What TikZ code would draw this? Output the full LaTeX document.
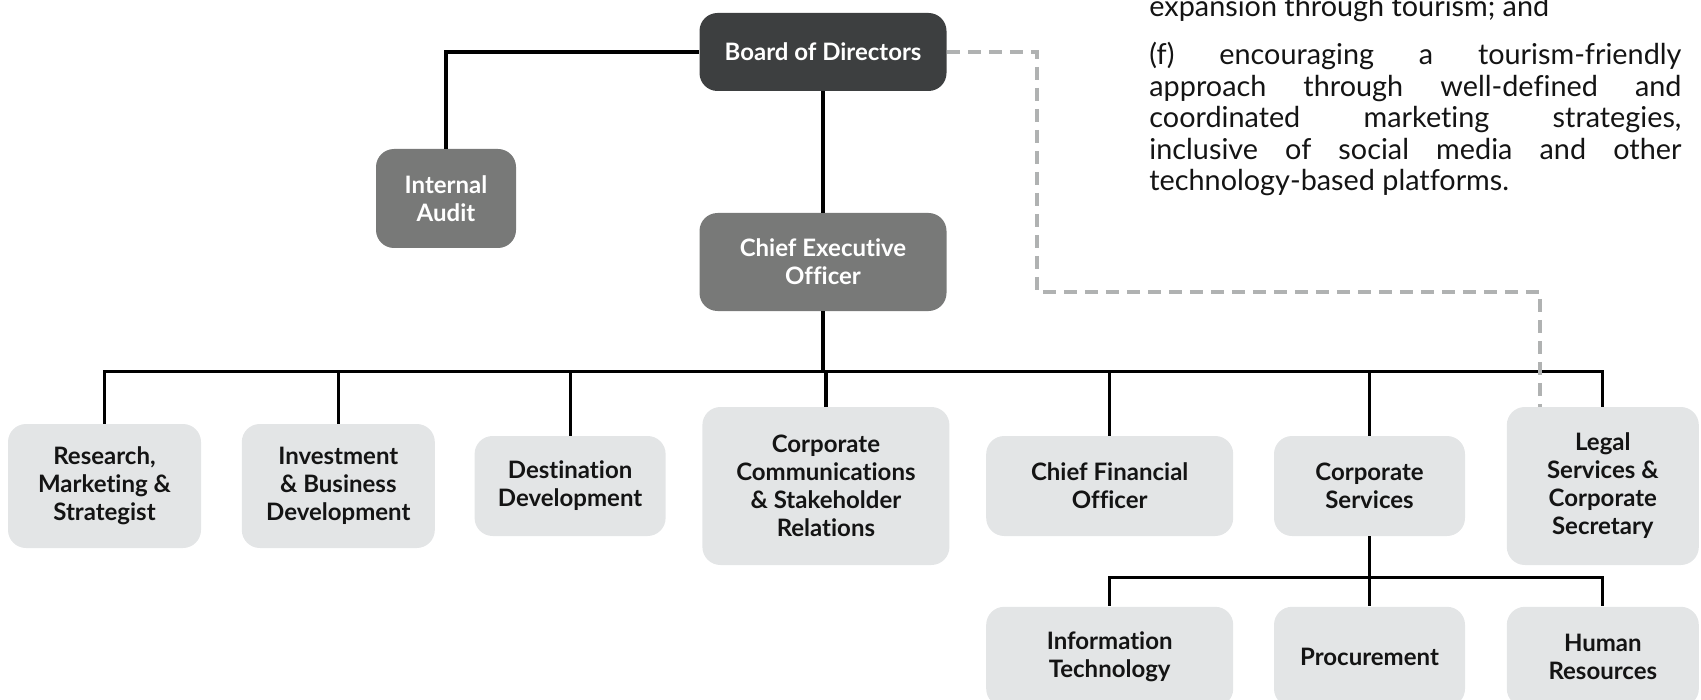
\documentclass[tikz,border=0pt]{standalone}
\usepackage{fontspec}
\setmainfont{Lato}[Ligatures=NoCommon]
\usepackage{tikz}
\usetikzlibrary{positioning}
\definecolor{boardgrey}{RGB}{61,63,64}
\definecolor{execgrey}{RGB}{120,121,120}
\definecolor{unitgrey}{RGB}{227,229,230}
\definecolor{dashgrey}{RGB}{176,178,178}
\definecolor{labelink}{RGB}{20,20,20}

\begin{document}
\begin{tikzpicture}[
  x=0.5pt, y=-0.5pt,
  font=\fontsize{12}{14}\selectfont\bfseries,
  node distance=35pt and 20pt,
  board/.style={rounded corners=9pt, inner sep=0pt, align=center, minimum width=123.5pt, minimum height=39pt, fill=boardgrey, text=white},
  exec/.style={board, fill=execgrey},
  unit/.style={rounded corners=9pt, inner sep=0pt, align=center, minimum height=50pt, fill=unitgrey, text=labelink},
  link/.style={line width=1.6pt},
  dlink/.style={line width=1.7pt, dashgrey, dash pattern=on 6.5pt off 4pt},
  note/.style={inner sep=0pt, font=\fontsize{14.4}{15.75}\selectfont\mdseries, text=labelink},
  ]
  \useasboundingbox (0,0) rectangle (1701,700);
  \clip (0,0) rectangle (1701,700);
  % board and the two offices under it
  \node[board] (board) at (823,52) {Board of Directors};
  \node[exec, minimum width=70pt, minimum height=49.5pt] (audit) at (446,198.5) {Internal\\Audit};
  \node[exec, minimum height=49pt] (ceo) at (823,262) {Chief Executive\\Officer};
  % divisions reporting to the CEO
  \node[unit, minimum width=96.5pt, minimum height=62pt] (research) at (104.5,486) {Research,\\Marketing \&\\Strategist};
  \node[unit, minimum width=96.5pt, minimum height=62pt, right=20pt of research] (invest) {Investment\\\& Business\\Development};
  \node[unit, minimum width=95.5pt, right=19.5pt of invest] (dest) {Destination\\Development};
  \node[unit, minimum width=123.5pt, minimum height=79pt, right=18pt of dest] (comm) {Corporate\\Communications\\\& Stakeholder\\Relations};
  \node[unit, minimum width=123.5pt, right=18pt of comm] (cfo) {Chief Financial\\Officer};
  \node[unit, minimum width=95.5pt, right=20pt of cfo] (corpsvc) {Corporate\\Services};
  \node[unit, minimum width=96pt, minimum height=79pt, right=20.5pt of corpsvc] (legal) {Legal\\Services \&\\Corporate\\Secretary};
  % units under corporate services
  \node[unit, minimum width=123.5pt, below=35pt of cfo] (infotech) {Information\\Technology};
  \node[unit, minimum width=95.5pt, right=20pt of infotech] (procure) {Procurement};
  \node[unit, minimum width=96pt, right=20.5pt of procure] (hr) {Human\\Resources};
  % reporting lines
  \draw[link] (board.west) -| (audit.north);
  \draw[link] (board.south) -- (ceo.north);
  \draw[link] (ceo.south) -- ++(0,60) coordinate (bus);
  \foreach \u in {research,invest,dest,comm,cfo,corpsvc,legal}
    \draw[link] (bus) -| (\u.north);
  \draw[link] (corpsvc.south) -- ++(0,41) coordinate (split);
  \foreach \u in {infotech,procure,hr}
    \draw[link] (split) -| (\u.north);
  % dashed line: legal also reports to the board
  \coordinate (dashA) at (1037,292);
  \coordinate (dashB) at (1540,292);
  \draw[dlink] (board.east) -| (dashA) -- (dashB) -- (dashB |- legal.north);
  % text beside the chart
  \node[note, anchor=base west] (clause) at (1149,17) {expansion through tourism; and};
  \node[note, anchor=north west, text width=266pt, align=justify] (clausef) at (1149,42) {\tolerance=10000 (f) encouraging a tourism-friendly\linebreak approach through well-defined and\linebreak coordinated marketing strategies,\linebreak inclusive of social media and other\linebreak technology-based platforms.};
\end{tikzpicture}
\end{document}
